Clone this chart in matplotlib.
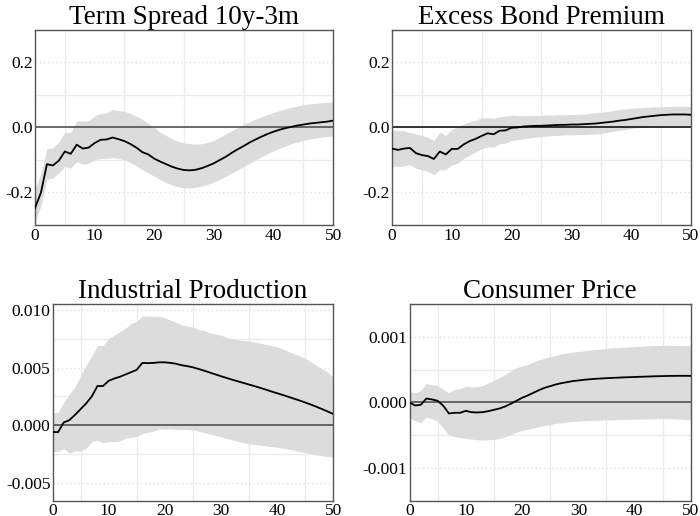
import matplotlib
matplotlib.use("Agg")
import matplotlib.pyplot as plt
from matplotlib.ticker import MultipleLocator, FixedLocator, FixedFormatter

plt.rcParams['font.family'] = ['Liberation Serif', 'DejaVu Serif']
plt.rcParams['axes.unicode_minus'] = False

horizon = list(range(51))

# Term spread 10y-3m
term_irf = [-0.248, -0.200, -0.113, -0.117, -0.102, -0.074, -0.081, -0.053, -0.065, -0.062,
            -0.048, -0.038, -0.037, -0.031, -0.036, -0.042, -0.051, -0.062, -0.076, -0.083,
            -0.096, -0.105, -0.113, -0.121, -0.127, -0.131, -0.132, -0.130, -0.125, -0.118,
            -0.110, -0.100, -0.090, -0.078, -0.067, -0.057, -0.046, -0.037, -0.028, -0.020,
            -0.013, -0.007, -0.002, 0.002, 0.006, 0.009, 0.012, 0.014, 0.016, 0.018, 0.021]
term_hi = [-0.190, -0.140, -0.065, -0.063, -0.045, -0.015, -0.015, 0.020, 0.020, 0.021,
           0.035, 0.043, 0.045, 0.055, 0.052, 0.050, 0.043, 0.035, 0.025, 0.012,
           0.000, -0.015, -0.025, -0.035, -0.043, -0.048, -0.050, -0.051, -0.050, -0.046,
           -0.040, -0.030, -0.020, -0.010, 0.000, 0.010, 0.018, 0.026, 0.033, 0.040,
           0.046, 0.052, 0.057, 0.062, 0.066, 0.070, 0.072, 0.074, 0.076, 0.077, 0.078]
term_lo = [-0.290, -0.240, -0.160, -0.155, -0.140, -0.120, -0.125, -0.105, -0.113, -0.110,
           -0.100, -0.095, -0.095, -0.093, -0.095, -0.100, -0.108, -0.118, -0.130, -0.140,
           -0.150, -0.160, -0.170, -0.177, -0.183, -0.186, -0.186, -0.184, -0.180, -0.175,
           -0.168, -0.160, -0.150, -0.140, -0.130, -0.120, -0.110, -0.100, -0.090, -0.080,
           -0.072, -0.064, -0.057, -0.050, -0.045, -0.040, -0.036, -0.033, -0.030, -0.028, -0.026]

# Excess bond premium
ebp_irf = [-0.065, -0.069, -0.065, -0.063, -0.079, -0.085, -0.088, -0.097, -0.074, -0.083,
           -0.066, -0.066, -0.052, -0.042, -0.035, -0.026, -0.018, -0.021, -0.010, -0.009,
           -0.001, 0.000, 0.003, 0.004, 0.005, 0.005, 0.006, 0.007, 0.008, 0.008,
           0.009, 0.009, 0.010, 0.011, 0.012, 0.014, 0.016, 0.018, 0.021, 0.023,
           0.026, 0.029, 0.032, 0.034, 0.036, 0.038, 0.039, 0.040, 0.040, 0.040, 0.039]
ebp_hi = [-0.008, -0.010, -0.010, -0.015, -0.020, -0.025, -0.030, -0.040, -0.015, -0.025,
          -0.005, 0.000, 0.010, 0.018, 0.022, 0.030, 0.030, 0.028, 0.033, 0.035,
          0.038, 0.037, 0.036, 0.037, 0.037, 0.037, 0.038, 0.038, 0.039, 0.039,
          0.040, 0.040, 0.041, 0.043, 0.045, 0.047, 0.049, 0.052, 0.055, 0.057,
          0.059, 0.060, 0.061, 0.062, 0.063, 0.064, 0.064, 0.065, 0.065, 0.065, 0.064]
ebp_lo = [-0.120, -0.120, -0.118, -0.115, -0.125, -0.130, -0.135, -0.145, -0.130, -0.130,
          -0.115, -0.110, -0.095, -0.085, -0.075, -0.065, -0.060, -0.060, -0.050, -0.048,
          -0.040, -0.038, -0.035, -0.032, -0.030, -0.028, -0.026, -0.025, -0.024, -0.023,
          -0.023, -0.022, -0.022, -0.021, -0.020, -0.018, -0.015, -0.012, -0.009, -0.006,
          -0.003, -0.001, 0.001, 0.003, 0.004, 0.005, 0.005, 0.006, 0.006, 0.006, 0.006]

# Industrial production
ip_irf = [-0.00058, -0.00058, 0.00025, 0.00045, 0.00090, 0.00140, 0.00190, 0.00250, 0.00340, 0.00340,
          0.00385, 0.00405, 0.00420, 0.00440, 0.00460, 0.00480, 0.00540, 0.00538, 0.00540, 0.00545,
          0.00545, 0.00540, 0.00533, 0.00520, 0.00512, 0.00502, 0.00488, 0.00473, 0.00457, 0.00441,
          0.00425, 0.00410, 0.00395, 0.00381, 0.00367, 0.00353, 0.00339, 0.00324, 0.00309, 0.00293,
          0.00278, 0.00263, 0.00247, 0.00231, 0.00215, 0.00198, 0.00180, 0.00161, 0.00141, 0.00120, 0.00099]
ip_hi = [0.00110, 0.00110, 0.00200, 0.00270, 0.00330, 0.00430, 0.00520, 0.00600, 0.00690, 0.00690,
         0.00750, 0.00780, 0.00810, 0.00840, 0.00880, 0.00900, 0.00945, 0.00945, 0.00940, 0.00945,
         0.00930, 0.00910, 0.00890, 0.00870, 0.00860, 0.00850, 0.00830, 0.00820, 0.00800, 0.00790,
         0.00780, 0.00760, 0.00750, 0.00740, 0.00735, 0.00730, 0.00720, 0.00710, 0.00700, 0.00690,
         0.00680, 0.00660, 0.00640, 0.00620, 0.00600, 0.00580, 0.00550, 0.00520, 0.00490, 0.00460, 0.00420]
ip_lo = [-0.00225, -0.00225, -0.00200, -0.00240, -0.00220, -0.00225, -0.00200, -0.00140, -0.00130, -0.00150,
         -0.00140, -0.00140, -0.00135, -0.00110, -0.00105, -0.00095, -0.00070, -0.00060, -0.00050, -0.00030,
         -0.00035, -0.00030, -0.00035, -0.00035, -0.00035, -0.00040, -0.00050, -0.00062, -0.00075, -0.00088,
         -0.00100, -0.00112, -0.00125, -0.00138, -0.00150, -0.00160, -0.00166, -0.00172, -0.00178, -0.00184,
         -0.00190, -0.00198, -0.00206, -0.00215, -0.00225, -0.00235, -0.00245, -0.00255, -0.00263, -0.00270, -0.00275]

# Consumer price
cpi_irf = [0.0, -0.000046, -0.000036, 0.000061, 0.000046, 0.000026, -0.000050, -0.000168, -0.000158, -0.000158,
           -0.000128, -0.000148, -0.000153, -0.000148, -0.000133, -0.000112, -0.000092, -0.000061, -0.000020, 0.000026,
           0.000071, 0.000107, 0.000148, 0.000189, 0.000224, 0.000250, 0.000276, 0.000296, 0.000311, 0.000327,
           0.000337, 0.000347, 0.000355, 0.000362, 0.000367, 0.000372, 0.000376, 0.000380, 0.000384, 0.000387,
           0.000390, 0.000393, 0.000396, 0.000399, 0.000402, 0.000404, 0.000406, 0.000407, 0.000408, 0.000408, 0.000407]
cpi_hi = [0.000170, 0.000150, 0.000180, 0.000290, 0.000270, 0.000260, 0.000200, 0.000150, 0.000200, 0.000210,
          0.000250, 0.000240, 0.000240, 0.000260, 0.000300, 0.000340, 0.000380, 0.000430, 0.000480, 0.000530,
          0.000560, 0.000580, 0.000620, 0.000650, 0.000680, 0.000700, 0.000720, 0.000745, 0.000760, 0.000770,
          0.000780, 0.000790, 0.000800, 0.000810, 0.000815, 0.000825, 0.000835, 0.000840, 0.000845, 0.000850,
          0.000855, 0.000860, 0.000865, 0.000870, 0.000872, 0.000875, 0.000875, 0.000875, 0.000872, 0.000870, 0.000865]
cpi_lo = [-0.000230, -0.000280, -0.000310, -0.000220, -0.000250, -0.000290, -0.000390, -0.000500, -0.000520, -0.000540,
          -0.000550, -0.000560, -0.000570, -0.000575, -0.000570, -0.000565, -0.000550, -0.000525, -0.000490, -0.000455,
          -0.000430, -0.000410, -0.000390, -0.000370, -0.000350, -0.000340, -0.000320, -0.000310, -0.000300, -0.000290,
          -0.000285, -0.000280, -0.000275, -0.000272, -0.000270, -0.000268, -0.000265, -0.000262, -0.000260, -0.000258,
          -0.000255, -0.000255, -0.000252, -0.000250, -0.000248, -0.000246, -0.000248, -0.000250, -0.000255, -0.000260, -0.000265]

titles = ['Term Spread 10y-3m', 'Excess Bond Premium', 'Industrial Production', 'Consumer Price']
ylims = [(-0.3, 0.3), (-0.3, 0.3), (-0.0065, 0.0105), (-0.0015, 0.0015)]
yticks = [[-0.2, 0.0, 0.2], [-0.2, 0.0, 0.2], [-0.005, 0.0, 0.005, 0.010], [-0.001, 0.0, 0.001]]
yticklabels = [['-0.2', '0.0', '0.2'], ['-0.2', '0.0', '0.2'],
               ['-0.005', '0.000', '0.005', '0.010'], ['-0.001', '0.000', '0.001']]
yminor = [0.1, 0.1, 0.0025, 0.0005]

series = [(term_irf, term_lo, term_hi), (ebp_irf, ebp_lo, ebp_hi),
          (ip_irf, ip_lo, ip_hi), (cpi_irf, cpi_lo, cpi_hi)]

# axes boxes [left, bottom, width, height] in figure fractions
boxes = [[0.050, 0.564, 0.426, 0.378], [0.560, 0.564, 0.427, 0.378],
         [0.075, 0.030, 0.401, 0.381], [0.585, 0.030, 0.402, 0.380]]

fig = plt.figure(figsize=(7, 5.16), dpi=100)

for i in range(4):
    ax = fig.add_axes(boxes[i])
    irf, lo, hi = series[i]
    ax.fill_between(horizon, lo, hi, color='#dcdcdc', linewidth=0, zorder=1)
    ax.axhline(0, color='#444444' if i != 1 else 'black', lw=1.1, zorder=2)
    ax.plot(horizon, irf, color='black', lw=1.3, zorder=3)

    ax.set_xlim(0, 50)
    ax.set_ylim(*ylims[i])
    ax.xaxis.set_major_locator(MultipleLocator(10))
    ax.xaxis.set_minor_locator(MultipleLocator(5))
    ax.yaxis.set_major_locator(FixedLocator(yticks[i]))
    ax.yaxis.set_major_formatter(FixedFormatter(yticklabels[i]))
    ax.yaxis.set_minor_locator(MultipleLocator(yminor[i]))

    ax.grid(True, which='minor', color='#ebebeb', lw=1.0, zorder=0)
    ax.grid(True, which='major', axis='y', color='#e2e2e2', lw=1.0, ls=(0, (1, 2)), zorder=0)
    ax.set_axisbelow(True)

    ax.tick_params(which='both', length=0, labelsize=12.5, colors='black')
    ax.tick_params(axis='x', pad=2)
    ax.tick_params(axis='y', pad=1.5)
    for s in ax.spines.values():
        s.set_color('#555555')
        s.set_linewidth(1.0)

    ax.set_title(titles[i], fontsize=19.5, pad=2.5)

plt.savefig('out.png')
